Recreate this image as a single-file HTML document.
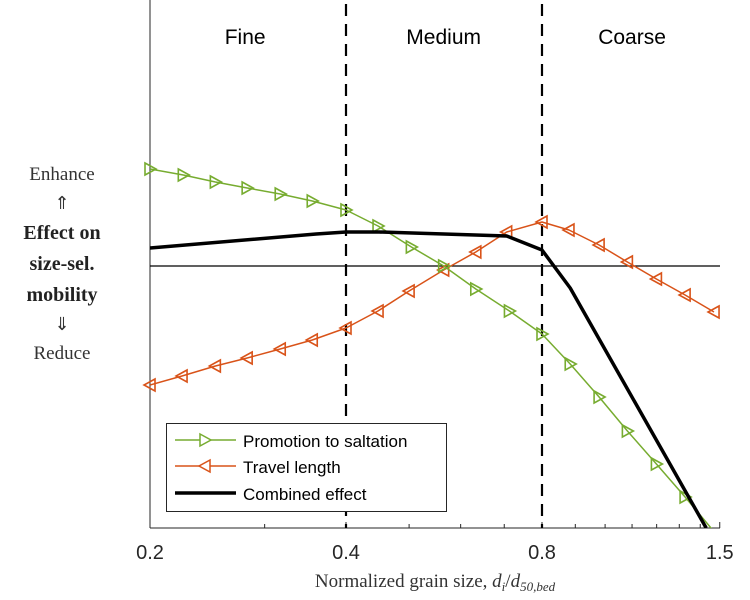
<!DOCTYPE html>
<html><head><meta charset="utf-8"><style>
html,body{margin:0;padding:0;background:#fff;}
svg{display:block;}
</style></head><body>
<svg id="chart" width="750" height="600" viewBox="0 0 750 600" xmlns="http://www.w3.org/2000/svg">
<g id="axes"></g>
<g id="marks"></g>
<g id="labels"></g>
</svg>
<script>
// data (x in d_i/d50, y in arbitrary effect units)
const greenX = [0.2,0.225,0.252,0.282,0.317,0.355,0.4,0.448,0.504,0.565,0.633,0.713,0.8,0.884,0.979,1.082,1.199,1.327,1.48];
const greenY = [0.97,0.91,0.84,0.78,0.72,0.65,0.56,0.40,0.19,0.00,-0.23,-0.45,-0.68,-0.98,-1.31,-1.65,-1.98,-2.31,-2.68];
const orangeX = [0.2,0.224,0.252,0.282,0.317,0.355,0.4,0.448,0.5,0.565,0.633,0.706,0.8,0.88,0.979,1.082,1.199,1.327,1.47];
const orangeY = [-1.19,-1.10,-1.00,-0.92,-0.83,-0.74,-0.62,-0.45,-0.25,-0.04,0.14,0.34,0.44,0.36,0.21,0.04,-0.13,-0.29,-0.46];
const blackX = [0.2,0.36,0.4,0.45,0.706,0.8,0.884,1.43];
const blackY = [0.18,0.32,0.34,0.34,0.30,0.16,-0.22,-2.62];
const majorTicks = [0.2,0.4,0.8,1.5];
const minorTicks = [0.3,0.5,0.6,0.7,0.9,1.0,1.1,1.2,1.3,1.4];
const regionBounds = [0.4,0.8];
const regionNames = ["Fine","Medium","Coarse"];
const regionCenters = [0.28,0.565,1.1];

const NS="http://www.w3.org/2000/svg";
const L=150,R=720,T=0,B=528;
const xs=v=>L+196*Math.log2(v/0.2);
const ys=v=>266-v*100;
function mk(parent,tag,attrs){const e=document.createElementNS(NS,tag);for(const k in attrs)e.setAttribute(k,attrs[k]);parent.appendChild(e);return e;}
const axes=document.getElementById('axes'),marks=document.getElementById('marks'),labels=document.getElementById('labels');

let e=mk(axes,'line',{x1:L,y1:T,x2:L,y2:B,stroke:'#262626','stroke-width':1});

e=mk(axes,'line',{x1:L,y1:B,x2:R,y2:B,stroke:'#262626','stroke-width':1});

e=mk(axes,'line',{x1:L,y1:ys(0),x2:R,y2:ys(0),stroke:'#000','stroke-width':1.3});

majorTicks.forEach(t=>{
  const l=mk(axes,'line',{x1:xs(t),y1:B,x2:xs(t),y2:B-6,stroke:'#262626'});
  
  const tx=mk(labels,'text',{x:xs(t),y:559,'text-anchor':'middle','font-family':'Liberation Sans, sans-serif','font-size':20,fill:'#262626'});
  tx.textContent=t;
  
});
minorTicks.forEach(t=>{
  const l=mk(axes,'line',{x1:xs(t),y1:B,x2:xs(t),y2:B-4,stroke:'#262626'});
  
});
regionBounds.forEach(b=>{
  const l=mk(axes,'line',{x1:xs(b),y1:4,x2:xs(b),y2:B,stroke:'#000','stroke-width':2.2,'stroke-dasharray':'12,8'});
  
});
regionNames.forEach((n,i)=>{
  const tx=mk(labels,'text',{x:xs(regionCenters[i]),y:44,'text-anchor':'middle','font-family':'Liberation Sans, sans-serif','font-size':21,fill:'#000'});
  tx.textContent=n;
  
});

function series(X,Y,color,w,marker,name){
  const g=mk(marks,'g',{});
  
  mk(g,'clipPath',{id:'c'+name}).appendChild(document.createElementNS(NS,'rect'));
  const cr=g.querySelector('clipPath rect');cr.setAttribute('x',L);cr.setAttribute('y',T);cr.setAttribute('width',R-L+10);cr.setAttribute('height',B-T);
  const pts=X.map((x,i)=>xs(x).toFixed(1)+','+ys(Y[i]).toFixed(1)).join(' ');
  mk(g,'polyline',{points:pts,fill:'none',stroke:color,'stroke-width':w,'stroke-linejoin':'round','clip-path':'url(#c'+name+')'});
  if(marker){X.forEach((x,i)=>{
    const cx=xs(x),cy=ys(Y[i]);
    if(cy>B+2)return;
    const p=marker==='right'?`${cx-5},${cy-6} ${cx+6},${cy} ${cx-5},${cy+6}`:`${cx+5},${cy-6} ${cx-6},${cy} ${cx+5},${cy+6}`;
    const m=mk(g,'polygon',{points:p,fill:'none',stroke:color,'stroke-width':1.6});
    
  });}
}
series(orangeX,orangeY,'#d95319',1.5,'left','travel-length-series');
series(greenX,greenY,'#77ac30',1.5,'right','promotion-series');
series(blackX,blackY,'#000',3.5,null,'combined-series');

// legend
const lg=mk(labels,'g',{});

mk(lg,'rect',{x:166.5,y:423.5,width:280,height:88,fill:'#fff',stroke:'#262626','stroke-width':1});
const le=[['Promotion to saltation','#77ac30',1.5,'right',450],['Travel length','#d95319',1.5,'left',476],['Combined effect','#000',3.5,null,503]];
le.forEach(([t,c,w,mkr,y])=>{
  const g=mk(lg,'g',{});
  
  mk(g,'line',{x1:175,y1:y-10,x2:236,y2:y-10,stroke:c,'stroke-width':w});
  if(mkr){const cx=205,cy=y-10;const p=mkr==='right'?`${cx-5},${cy-6} ${cx+6},${cy} ${cx-5},${cy+6}`:`${cx+5},${cy-6} ${cx-6},${cy} ${cx+5},${cy+6}`;mk(g,'polygon',{points:p,fill:'#fff',stroke:c,'stroke-width':1.5});}
  const tx=mk(g,'text',{x:243,y:y-3,'font-family':'Liberation Sans, sans-serif','font-size':17,fill:'#000'});tx.textContent=t;
});

// y labels
const yl=[['Enhance',180,'normal',19,'#333'],['⇑',209,'normal',18,'#333'],['Effect on',239,'bold',20,'#222'],['size-sel.',270,'bold',20,'#222'],['mobility',301,'bold',20,'#222'],['⇓',330,'normal',18,'#333'],['Reduce',359,'normal',19,'#333']];
yl.forEach(([t,y,wt,fs,c])=>{
  const tx=mk(labels,'text',{x:62,y:y,'text-anchor':'middle','font-family':'Liberation Serif, serif','font-size':fs,'font-weight':wt,fill:c});
  tx.textContent=t;
  
});
const xt=mk(labels,'text',{x:435,y:587,'text-anchor':'middle','font-family':'Liberation Serif, serif','font-size':19,fill:'#333'});

xt.innerHTML='Normalized grain size, <tspan font-style="italic">d</tspan><tspan font-style="italic" font-size="13" dy="4">i</tspan><tspan dy="-4">/</tspan><tspan font-style="italic">d</tspan><tspan font-style="italic" font-size="13" dy="4">50,bed</tspan>';
</script>
</body></html>
